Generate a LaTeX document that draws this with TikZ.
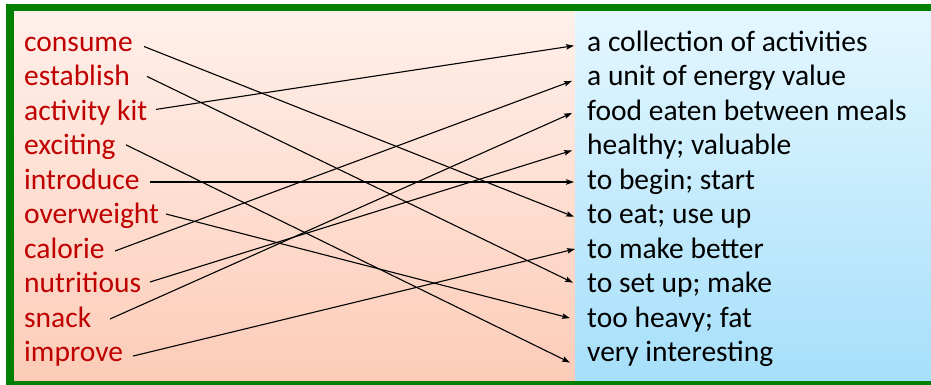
\documentclass[tikz,border=0pt]{standalone}
\usepackage{fontspec}
\setmainfont{Carlito}
\usetikzlibrary{arrows.meta}
\definecolor{framegreen}{RGB}{0,128,0}
\definecolor{wordred}{RGB}{192,0,0}
\definecolor{lefttop}{RGB}{255,240,234}
\definecolor{leftbot}{RGB}{252,204,184}
\definecolor{righttop}{RGB}{228,247,255}
\definecolor{rightbot}{RGB}{166,223,250}
\tikzset{
  word/.style={anchor=base west, inner sep=0pt, text=wordred, font=\fontsize{29.5}{34}\selectfont},
  meaning/.style={anchor=base west, inner sep=0pt, text=black, font=\fontsize{29.5}{34}\selectfont},
  conn/.style={line width=1.1pt, -{Stealth[length=8pt,width=5.5pt,inset=1.5pt]}},
}
\begin{document}
\begin{tikzpicture}[x=1pt,y=-1pt]
\useasboundingbox (0,0) rectangle (931,385);
\begin{scope}
\clip (0,0) rectangle (931,385);
\fill[white] (0,0) rectangle (931,385);
\fill[framegreen] (6,4) rectangle (950,395);
\shade[top color=lefttop, bottom color=leftbot] (14,12) rectangle (575,380);
\shade[top color=righttop, bottom color=rightbot] (575,12) rectangle (950,380);
\end{scope}
% words
\node[word] (c1)  at (24,51.5)   {consume};
\node[word] (c2)  at (24,85.95)  {establish};
\node[word] (c3)  at (24,120.4)  {activity kit};
\node[word] (c4)  at (24,154.85) {exciting};
\node[word] (c5)  at (24,189.3)  {introduce};
\node[word] (c6)  at (24,223.75) {overweight};
\node[word] (c7)  at (24,258.2)  {calorie};
\node[word] (c8)  at (24,292.65) {nutritious};
\node[word] (c9)  at (24,327.1)  {snack};
\node[word] (c10) at (24,361.55) {improve};
% meanings
\node[meaning] (r1)  at (587,51.5)   {a collection of activities};
\node[meaning] (r2)  at (587,85.95)  {a unit of energy value};
\node[meaning] (r3)  at (587,120.4)  {food eaten between meals};
\node[meaning] (r4)  at (587,154.85) {healthy; valuable};
\node[meaning] (r5)  at (587,189.3)  {to begin; start};
\node[meaning] (r6)  at (587,223.75) {to eat; use up};
\node[meaning] (r7)  at (587,258.2)  {to make better};
\node[meaning] (r8)  at (587,292.65) {to set up; make};
\node[meaning] (r9)  at (587,327.1)  {too heavy; fat};
\node[meaning] (r10) at (587,361.55) {very interesting};
% connectors
\draw[conn] ([shift={(120,-5)}]c1.base west)      -- ([shift={(-13,-7)}]r6.base west);
\draw[conn] ([shift={(123,-9.5)}]c2.base west)    -- ([shift={(-14,-10)}]r8.base west);
\draw[conn] ([shift={(132,-11)}]c3.base west)     -- ([shift={(-13,-5.8)}]r1.base west);
\draw[conn] ([shift={(102,-10)}]c4.base west)     -- ([shift={(-17,1)}]r10.base west);
\draw[conn] ([shift={(125.5,-7.3)}]c5.base west)  -- ([shift={(-13,-7.3)}]r5.base west);
\draw[conn] ([shift={(142,-9.75)}]c6.base west)   -- ([shift={(-17,-9)}]r9.base west);
\draw[conn] ([shift={(91,-7.2)}]c7.base west)     -- ([shift={(-15,-5)}]r2.base west);
\draw[conn] ([shift={(126,-10.65)}]c8.base west)  -- ([shift={(-15,-4.4)}]r4.base west);
\draw[conn] ([shift={(86,-8.1)}]c9.base west)     -- ([shift={(-15,-7.4)}]r3.base west);
\draw[conn] ([shift={(109,-5.5)}]c10.base west)   -- ([shift={(-12,-9.2)}]r7.base west);
\end{tikzpicture}
\end{document}
